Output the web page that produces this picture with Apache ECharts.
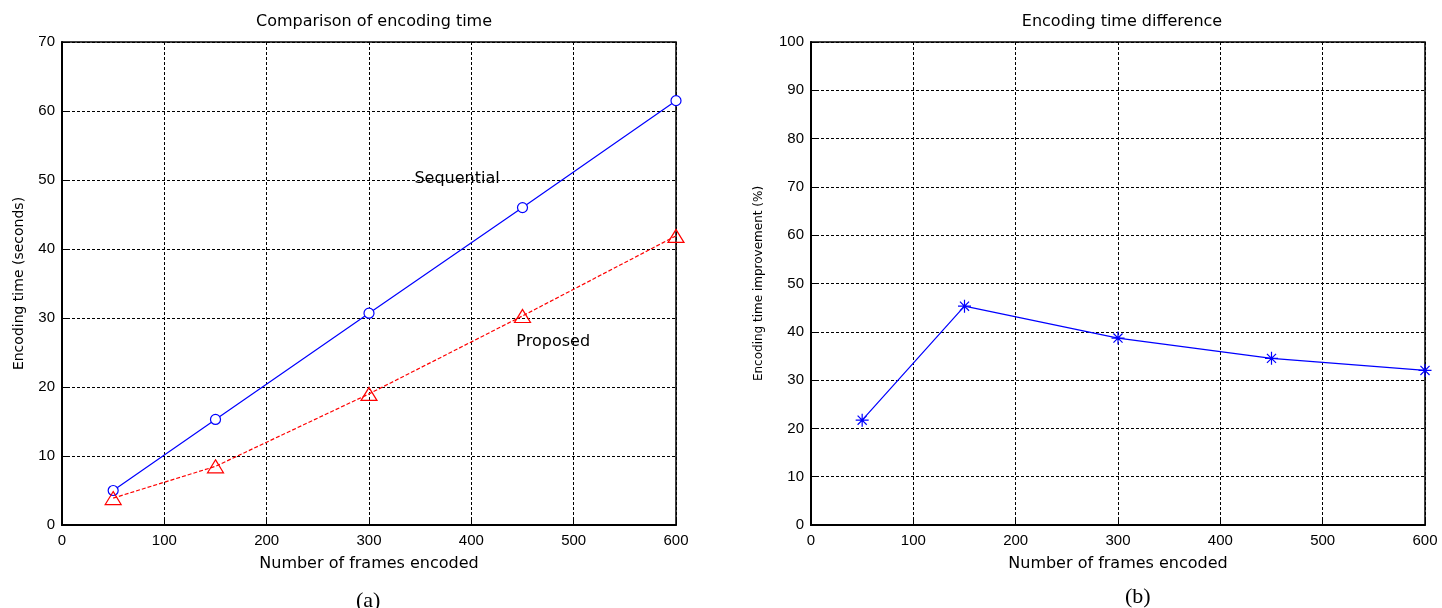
<!DOCTYPE html>
<html><head><meta charset="utf-8">
<script src="https://cdn.jsdelivr.net/npm/echarts@6/dist/echarts.min.js"></script>
<style>html,body{margin:0;padding:0;background:#fff}#c{width:1442px;height:608px}</style>
</head><body><div id="c"></div>
<script>
const frames = [50, 150, 300, 450, 600];
const sequential = [5.0, 15.3, 30.7, 46.0, 61.5];
const proposed = [3.9, 8.5, 19.0, 30.3, 41.9];
const improvement = [21.7, 45.3, 38.7, 34.5, 32.0];
const xTicks = [0, 100, 200, 300, 400, 500, 600];
const leftYTicks = [0, 10, 20, 30, 40, 50, 60, 70];
const rightYTicks = [0, 10, 20, 30, 40, 50, 60, 70, 80, 90, 100];

const F = 'Liberation Sans, Arial, sans-serif';
const W = 'DejaVu Sans, sans-serif';
const pairs = (xs, ys) => xs.map((x, i) => [x, ys[i]]);
const star = 'path://M0 -10 L0 10 M-10 0 L10 0 M-7 -7 L7 7 M-7 7 L7 -7';

function xAxis(idx) {
  return {
    gridIndex: idx, type: 'value', min: 0, max: 600, interval: 100,
    name: 'Number of frames encoded', nameLocation: 'middle', nameGap: 31,
    nameTextStyle: { color: '#000', fontFamily: W, fontSize: 16 },
    axisLine: { show: true, onZero: false, lineStyle: { color: '#000', width: 2 } },
    axisTick: { show: true, inside: true, length: 5, lineStyle: { color: '#000' } },
    axisLabel: { color: '#000', fontFamily: F, fontSize: 15, margin: 8 },
    splitLine: { show: true, lineStyle: { color: '#000', type: [3, 2], width: 1 } }
  };
}
function yAxis(idx, max, name, gap, font, size) {
  return {
    gridIndex: idx, type: 'value', min: 0, max: max, interval: 10,
    name: name, nameLocation: 'middle', nameGap: gap,
    nameTextStyle: { color: '#000', fontFamily: font, fontSize: size },
    axisLine: { show: true, onZero: false, lineStyle: { color: '#000', width: 2 } },
    axisTick: { show: true, inside: true, length: 5, lineStyle: { color: '#000' } },
    axisLabel: { color: '#000', fontFamily: F, fontSize: 15, margin: 7 },
    splitLine: { show: true, lineStyle: { color: '#000', type: [3, 2], width: 1 } }
  };
}

const chart = echarts.init(document.getElementById('c'));
chart.setOption({
  animation: false,
  backgroundColor: '#fff',
  title: [
    { text: 'Comparison of encoding time', left: 369, top: 9, textAlign: 'center',
      textStyle: { color: '#000', fontFamily: W, fontSize: 16, fontWeight: 'normal' } },
    { text: 'Encoding time difference', left: 1117, top: 9, textAlign: 'center',
      textStyle: { color: '#000', fontFamily: W, fontSize: 16, fontWeight: 'normal' } }
  ],
  grid: [
    { left: 62, top: 42, width: 614, height: 483, show: true, borderColor: '#000', borderWidth: 1.5, backgroundColor: 'transparent' },
    { left: 811, top: 42, width: 614, height: 483, show: true, borderColor: '#000', borderWidth: 1.5, backgroundColor: 'transparent' }
  ],
  xAxis: [xAxis(0), xAxis(1)],
  yAxis: [
    yAxis(0, 70, 'Encoding time (seconds)', 36, W, 14),
    yAxis(1, 100, 'Encoding time improvement (%)', 46, W, 12)
  ],
  series: [
    { type: 'line', xAxisIndex: 0, yAxisIndex: 0, data: pairs(frames, sequential),
      symbol: 'circle', symbolSize: 10, showAllSymbol: true,
      lineStyle: { color: '#0000ff', width: 1.2 },
      itemStyle: { color: '#fff', borderColor: '#0000ff', borderWidth: 1.2 },
      markPoint: { symbol: 'circle', symbolSize: 0, silent: true,
        label: { show: true, position: 'inside', color: '#000', fontFamily: W, fontSize: 16, formatter: 'Sequential' },
        data: [{ coord: [386, 50.1], value: 'Sequential' }] } },
    { type: 'line', xAxisIndex: 0, yAxisIndex: 0, data: pairs(frames, proposed),
      symbol: 'triangle', symbolSize: [16, 13], showAllSymbol: true,
      lineStyle: { color: '#ff0000', width: 1.2, type: [4, 2] },
      itemStyle: { color: 'rgba(255,255,255,0)', borderColor: '#ff0000', borderWidth: 1.2 },
      markPoint: { symbol: 'circle', symbolSize: 0, silent: true,
        label: { show: true, position: 'inside', color: '#000', fontFamily: W, fontSize: 16, formatter: 'Proposed' },
        data: [{ coord: [480, 26.6], value: 'Proposed' }] } },
    { type: 'line', xAxisIndex: 1, yAxisIndex: 1, data: pairs(frames, improvement),
      symbol: star, symbolSize: 13, showAllSymbol: true,
      lineStyle: { color: '#0000ff', width: 1.2 },
      itemStyle: { color: 'none', borderColor: '#0000ff', borderWidth: 1.2 } }
  ],
  graphic: [
    { type: 'text', left: 356, top: 590, style: { text: '(a)', fill: '#000', font: '22px "Liberation Serif", serif' } },
    { type: 'text', left: 1125, top: 586, style: { text: '(b)', fill: '#000', font: '22px "Liberation Serif", serif' } }
  ]
});
</script></body></html>
